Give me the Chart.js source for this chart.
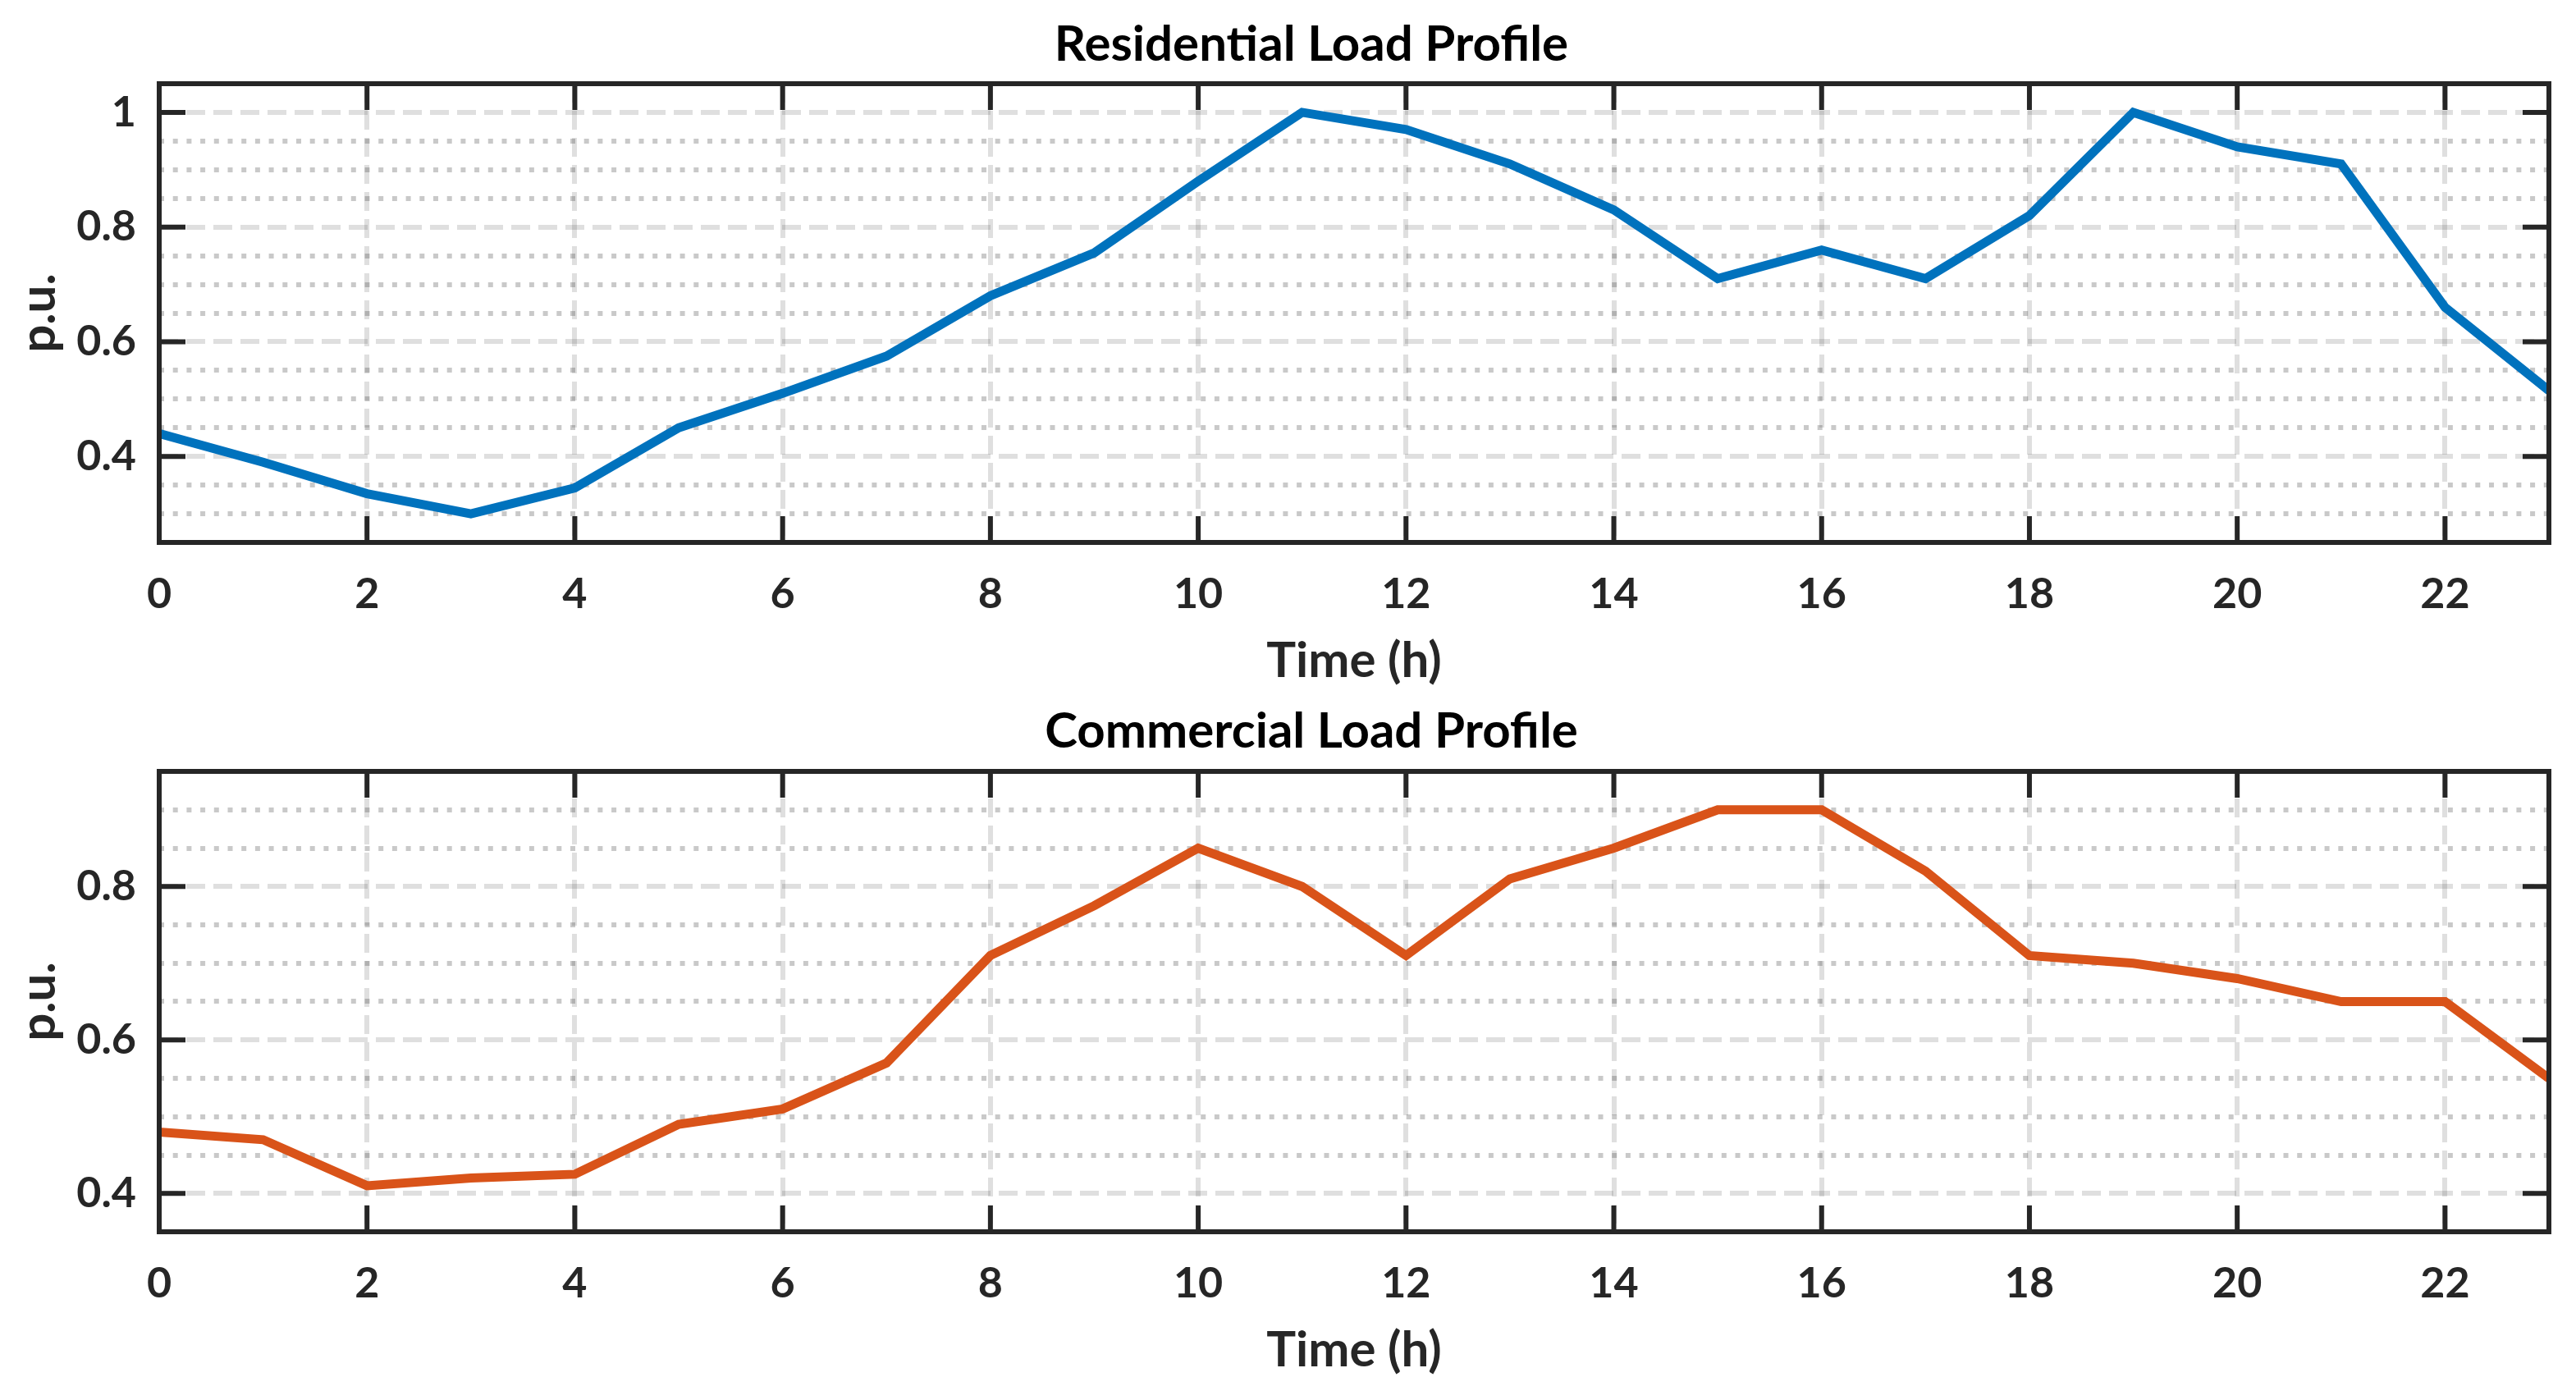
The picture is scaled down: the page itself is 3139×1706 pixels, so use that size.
<!DOCTYPE html>
<html>
<head>
<meta charset="utf-8">
<script src="https://cdn.jsdelivr.net/npm/chart.js@4.4.1/dist/chart.umd.min.js"></script>
<style>
  html, body { margin: 0; padding: 0; background: #ffffff; overflow: hidden; width: 3139px; height: 1706px; }
  canvas { position: absolute; left: 0; display: block; }
</style>
</head>
<body>
<canvas id="c1"></canvas>
<canvas id="c2"></canvas>
<script>
// ---------------- data ----------------
const hours = [0,1,2,3,4,5,6,7,8,9,10,11,12,13,14,15,16,17,18,19,20,21,22,23];
const residential = [0.44,0.39,0.335,0.30,0.345,0.45,0.51,0.575,0.68,0.755,0.88,1.00,0.97,0.91,0.83,0.71,0.76,0.71,0.82,1.00,0.94,0.91,0.66,0.515];
const commercial  = [0.48,0.47,0.41,0.42,0.425,0.49,0.51,0.57,0.71,0.775,0.85,0.80,0.71,0.81,0.85,0.90,0.90,0.82,0.71,0.70,0.68,0.65,0.65,0.55];
const xTicks = [0,2,4,6,8,10,12,14,16,18,20,22];
const resYTicks = [0.4,0.6,0.8,1.0];
const resYMinor = [0.30,0.35,0.45,0.50,0.55,0.65,0.70,0.75,0.85,0.90,0.95];
const comYTicks = [0.4,0.6,0.8];
const comYMinor = [0.45,0.50,0.55,0.65,0.70,0.75,0.85,0.90];
const titles = ['Residential Load Profile','Commercial Load Profile'];
const xTitle = 'Time (h)';
const yTitle = 'p.u.';

// ---------------- style ----------------
const FONT = 'Lato';
const INK = '#262626';
const W = 3196;

const boxPlugin = {
  id: 'matlabBox',
  afterDatasetsDraw(chart) {
    const {ctx, chartArea: {left, right, top, bottom}} = chart;
    const x = chart.scales.x, y = chart.scales.y;
    const L = 32;
    ctx.save();
    ctx.strokeStyle = INK;
    ctx.lineWidth = 6;
    ctx.lineCap = 'butt';
    ctx.beginPath();
    x.ticks.forEach(t => {
      const px = x.getPixelForValue(t.value);
      ctx.moveTo(px, bottom); ctx.lineTo(px, bottom - L);
      ctx.moveTo(px, top); ctx.lineTo(px, top + L);
    });
    y.ticks.forEach(t => {
      const py = y.getPixelForValue(t.value);
      ctx.moveTo(left, py); ctx.lineTo(left + L, py);
      ctx.moveTo(right, py); ctx.lineTo(right - L, py);
    });
    ctx.stroke();
    ctx.lineJoin = 'miter';
    ctx.strokeRect(left, top, right - left, bottom - top);
    ctx.restore();
  }
};

function makeChart(id, topPx, height, values, color, title, yMin, yMax, yMajor, yMinor, g) {
  const cv = document.getElementById(id);
  cv.width = W; cv.height = height;
  cv.style.width = W + 'px'; cv.style.height = height + 'px';
  cv.style.top = topPx + 'px';
  const tickFont = {family: FONT, weight: 'bold', size: 52};
  const labFont = {family: FONT, weight: 'bold', size: 60};
  return new Chart(cv.getContext('2d'), {
    type: 'line',
    data: {
      datasets: [{
        data: hours.map((h, i) => ({x: h, y: values[i]})),
        borderColor: color,
        borderWidth: 11,
        borderJoinStyle: 'miter',
        pointRadius: 0,
        fill: false,
        tension: 0
      }]
    },
    options: {
      responsive: false,
      devicePixelRatio: 1,
      animation: false,
      layout: {padding: {left: 0, right: 0, top: 0, bottom: 0}},
      plugins: {
        legend: {display: false},
        tooltip: {enabled: false},
        title: {
          display: true, text: title, color: '#000000',
          font: labFont,
          padding: {top: g.tTop, bottom: g.tBot}
        }
      },
      scales: {
        x: {
          type: 'linear', position: 'bottom', min: 0, max: 23,
          afterBuildTicks: s => { s.ticks = xTicks.map(v => ({value: v})); },
          afterFit: s => { s.height = g.xH; },
          ticks: {font: tickFont, color: INK, padding: 32, maxRotation: 0, autoSkip: false, includeBounds: false},
          grid: {color: 'rgba(38,38,38,0.15)', lineWidth: 6, drawTicks: false, borderDash: [23, 10]},
          border: {display: false, dash: [23, 10]},
          title: {display: true, text: xTitle, color: INK, font: labFont, padding: {top: 0, bottom: g.xPb}}
        },
        yMinor: {
          type: 'linear', position: 'left', min: yMin, max: yMax, weight: 1,
          afterBuildTicks: s => { s.ticks = yMinor.map(v => ({value: v})); },
          afterFit: s => { s.width = 0; },
          ticks: {display: false},
          grid: {color: 'rgba(38,38,38,0.25)', lineWidth: 6, drawTicks: false, borderDash: [6, 10.7]},
          border: {display: false, dash: [6, 10.7]}
        },
        y: {
          type: 'linear', position: 'left', min: yMin, max: yMax, weight: 2,
          afterBuildTicks: s => { s.ticks = yMajor.map(v => ({value: v})); },
          afterFit: s => { s.width = 194; },
          ticks: {font: tickFont, color: INK, padding: 28, callback: v => String(Math.round(v * 100) / 100)},
          grid: {color: 'rgba(38,38,38,0.15)', lineWidth: 6, drawTicks: false, borderDash: [23, 10]},
          border: {display: false, dash: [23, 10]},
          title: {display: true, text: yTitle, color: INK, font: labFont, padding: {top: 12, bottom: 0}}
        },
        yR: {
          type: 'linear', position: 'right', min: yMin, max: yMax,
          afterBuildTicks: s => { s.ticks = []; },
          afterFit: s => { s.width = 90; },
          ticks: {display: false},
          grid: {display: false, drawTicks: false},
          border: {display: false}
        }
      }
    },
    plugins: [boxPlugin]
  });
}

function draw() {
  makeChart('c1', 0, 850, residential, '#0072BD', titles[0], 0.25, 1.05, resYTicks, resYMinor,
            {tTop: 18.65, tBot: 11.35, xH: 189, xPb: 8.35});
  makeChart('c2', 850, 856, commercial, '#D95319', titles[1], 0.35, 0.95, comYTicks, comYMinor,
            {tTop: 5.65, tBot: 12.35, xH: 205, xPb: 24.35});
}
if (document.fonts && document.fonts.load) {
  Promise.all([document.fonts.load('bold 60px Lato'), document.fonts.load('bold 52px Lato')])
    .then(draw, draw);
} else { draw(); }
</script>
</body>
</html>
